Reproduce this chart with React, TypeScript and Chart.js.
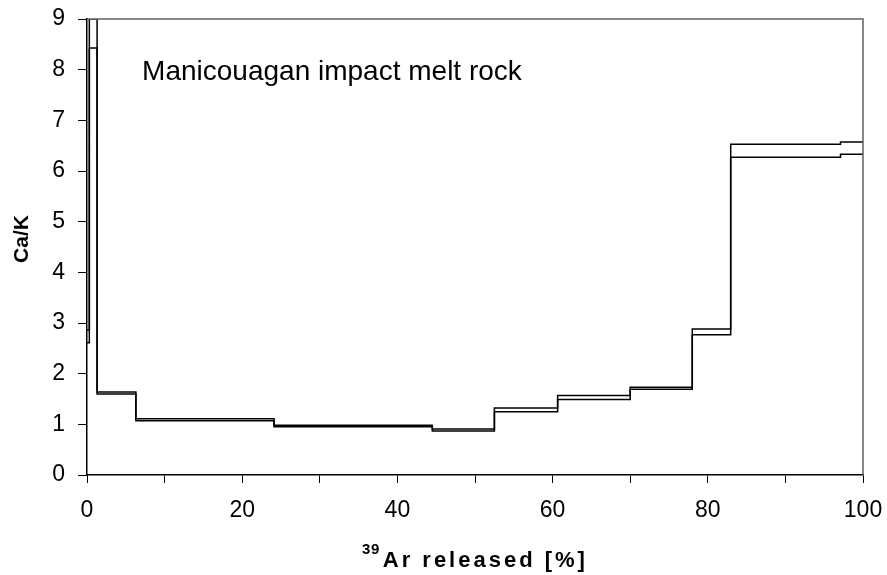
import React, { useEffect, useRef } from "react";
import { Chart, registerables } from "chart.js";

Chart.register(...registerables);

// Step start positions (% 39Ar released); the last step ends at 100 %
const stepStart = [0, 0.3, 1.3, 6.3, 24.1, 44.5, 52.5, 60.65, 70.0, 78.0, 82.95, 97.1];
const stepEnd = 100;
// Upper and lower bounds (Ca/K) of each step
const upperCaK = [2.86, 9.0, 1.64, 1.11, 0.98, 0.91, 1.32, 1.57, 1.73, 2.88, 6.53, 6.57];
const lowerCaK = [2.61, 8.43, 1.6, 1.07, 0.95, 0.87, 1.25, 1.49, 1.69, 2.77, 6.27, 6.33];

const xTicks = [0, 20, 40, 60, 80, 100];
const yTicks = [0, 1, 2, 3, 4, 5, 6, 7, 8, 9];

const annotationText = "Manicouagan impact melt rock";
const yTitle = "Ca/K";
const xTitleSup = "39";
const xTitleMain = "Ar released [%]";

const FONT = "'Liberation Sans', Arial, sans-serif";

function toSteps(values: number[]) {
  const pts = stepStart.map((x, i) => ({ x, y: values[i] }));
  pts.push({ x: stepEnd, y: values[values.length - 1] });
  return pts;
}

const decorPlugin = {
  id: "decor",
  beforeDraw(chart: any) {
    const { ctx, width, height } = chart;
    ctx.save();
    ctx.fillStyle = "#fff";
    ctx.fillRect(0, 0, width, height);
    ctx.restore();
  },
  afterDraw(chart: any) {
    const { ctx, chartArea } = chart;
    const xs = chart.scales.x;
    const ys = chart.scales.y;
    ctx.save();
    // top and right frame
    ctx.strokeStyle = "#606060";
    ctx.lineWidth = 1.5;
    ctx.beginPath();
    ctx.moveTo(chartArea.left, chartArea.top);
    ctx.lineTo(chartArea.right, chartArea.top);
    ctx.lineTo(chartArea.right, chartArea.bottom);
    ctx.stroke();

    // annotation
    ctx.fillStyle = "#000";
    ctx.font = `28px ${FONT}`;
    ctx.textAlign = "left";
    ctx.textBaseline = "alphabetic";
    ctx.fillText(annotationText, xs.getPixelForValue(7.1), ys.getPixelForValue(7.8));

    // y title
    ctx.save();
    ctx.translate(28, 239);
    ctx.rotate(-Math.PI / 2);
    ctx.font = `bold 21px ${FONT}`;
    ctx.textAlign = "center";
    ctx.textBaseline = "alphabetic";
    ctx.fillText(yTitle, 0, 0);
    ctx.restore();

    // x title with superscript
    ctx.textBaseline = "alphabetic";
    ctx.textAlign = "left";
    const baseY = 567;
    ctx.font = `bold 15px ${FONT}`;
    (ctx as any).letterSpacing = "0.5px";
    const supW = ctx.measureText(xTitleSup).width;
    ctx.font = `bold 22px ${FONT}`;
    (ctx as any).letterSpacing = "3px";
    const mainW = ctx.measureText(xTitleMain).width;
    const gap = 3;
    const total = supW + gap + mainW;
    const cx = (chartArea.left + chartArea.right) / 2;
    const x0 = cx - total / 2;
    ctx.font = `bold 15px ${FONT}`;
    (ctx as any).letterSpacing = "0.5px";
    ctx.fillText(xTitleSup, x0, baseY - 13);
    ctx.font = `bold 22px ${FONT}`;
    (ctx as any).letterSpacing = "3px";
    ctx.fillText(xTitleMain, x0 + supW + gap, baseY);
    (ctx as any).letterSpacing = "0px";
    ctx.restore();
  },
};

export default function App() {
  const ref = useRef<HTMLCanvasElement>(null);
  useEffect(() => {
    if (!ref.current) return;
    const chart = new Chart(ref.current, {
      type: "line",
      data: {
        datasets: [
          {
            data: toSteps(upperCaK),
            borderColor: "#000",
            borderWidth: 1.5,
            pointRadius: 0,
            stepped: "before",
            fill: false,
          },
          {
            data: toSteps(lowerCaK),
            borderColor: "#000",
            borderWidth: 1.5,
            pointRadius: 0,
            stepped: "before",
            fill: false,
          },
        ],
      },
      options: {
        responsive: false,
        animation: false,
        layout: { padding: { top: 19, right: 24, left: 0, bottom: 0 } },
        plugins: {
          legend: { display: false },
          tooltip: { enabled: false },
          title: { display: false },
        },
        scales: {
          x: {
            type: "linear",
            min: 0,
            max: 100,
            afterFit(scale: any) {
              scale.height = 100;
              scale.paddingLeft = 0;
              scale.paddingRight = 0;
            },
            afterBuildTicks(scale: any) {
              const t: any[] = [];
              for (let v = 0; v <= 100; v += 10) t.push({ value: v });
              scale.ticks = t;
            },
            ticks: {
              autoSkip: false,
              maxRotation: 0,
              padding: 14,
              color: "#000",
              font: { family: FONT, size: 23 },
              callback: (v: any) => (xTicks.includes(Number(v)) ? String(v) : ""),
            },
            grid: {
              drawOnChartArea: false,
              drawTicks: true,
              tickLength: 8,
              color: "#000",
            },
            border: { display: true, color: "#000", width: 1.5 },
          },
          y: {
            type: "linear",
            min: 0,
            max: 9,
            afterFit(scale: any) {
              scale.width = 87;
              scale.paddingTop = 0;
              scale.paddingBottom = 0;
            },
            afterBuildTicks(scale: any) {
              scale.ticks = yTicks.map((v) => ({ value: v }));
            },
            ticks: {
              padding: 13,
              color: "#000",
              font: { family: FONT, size: 23 },
            },
            grid: {
              drawOnChartArea: false,
              drawTicks: true,
              tickLength: 9,
              color: "#000",
            },
            border: { display: true, color: "#000", width: 1.5 },
          },
        },
      },
      plugins: [decorPlugin],
    } as any);
    return () => chart.destroy();
  }, []);
  return (
    <div style={{ position: "fixed", left: 0, top: 0, width: 887, height: 575 }}>
      <canvas ref={ref} width={887} height={575} style={{ display: "block" }} />
    </div>
  );
}
